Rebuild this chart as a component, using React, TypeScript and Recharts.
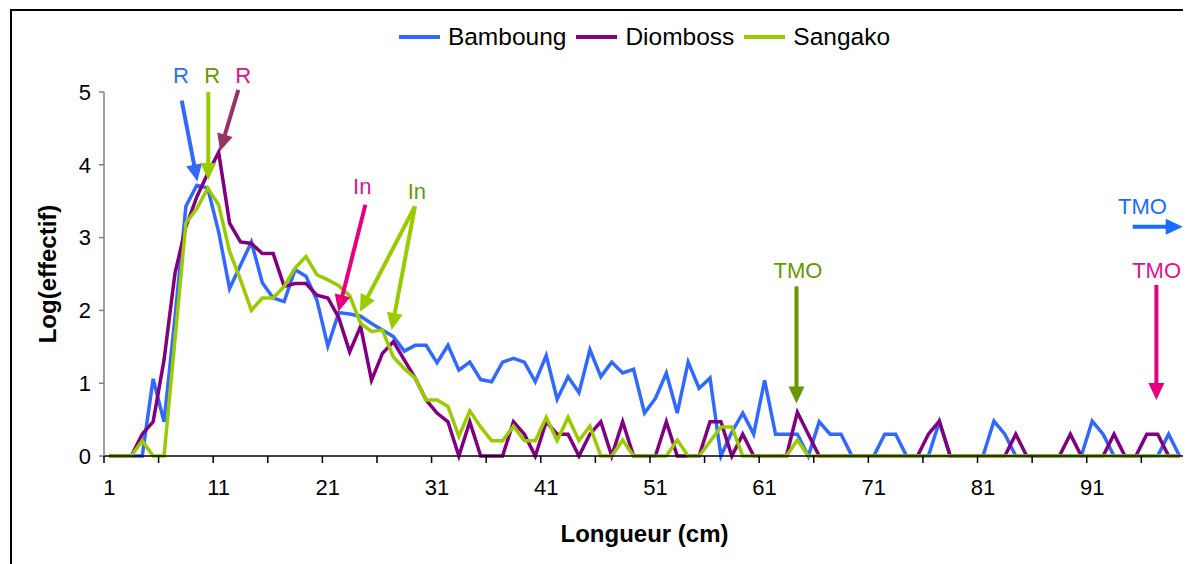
import React from 'react';
import { LineChart, Line, XAxis, YAxis, Legend, ReferenceLine, ReferenceDot } from 'recharts';

// length classes (cm)
const lengths = Array.from({ length: 99 }, (_, i) => i + 1);

// log(effectif) per length class
const bamboung = [
  0, 0, 0, 0, 1.06, 0.47, 1.9, 3.43, 3.72, 3.68,
  3.08, 2.3, 2.62, 2.94, 2.38, 2.17, 2.12, 2.56, 2.47, 2.14,
  1.51, 1.97, 1.95, 1.92, 1.82, 1.73, 1.64, 1.44, 1.52, 1.52,
  1.28, 1.52, 1.18, 1.29, 1.05, 1.02, 1.29, 1.34, 1.29, 1.02,
  1.38, 0.78, 1.09, 0.87, 1.46, 1.09, 1.29, 1.14, 1.19, 0.59,
  0.79, 1.14, 0.59, 1.29, 0.93, 1.07, 0, 0.33, 0.59, 0.3,
  1.04, 0.3, 0.3, 0.3, 0, 0.47, 0.3, 0.3, 0, 0,
  0, 0.3, 0.3, 0, 0, 0, 0.47, 0, 0, 0,
  0, 0.48, 0.3, 0, 0, 0, 0, 0, 0, 0,
  0.48, 0.3, 0, 0, 0, 0, 0, 0.3, 0,
];

const diomboss = [
  0, 0, 0, 0.3, 0.47, 1.32, 2.51, 3.15, 3.56, 3.88,
  4.17, 3.2, 2.94, 2.92, 2.78, 2.78, 2.33, 2.37, 2.37, 2.21,
  2.17, 1.9, 1.43, 1.78, 1.04, 1.41, 1.57, 1.32, 1.07, 0.77,
  0.59, 0.47, 0, 0.47, 0, 0, 0, 0.47, 0.3, 0,
  0.47, 0.3, 0.3, 0, 0.3, 0.47, 0, 0.47, 0, 0,
  0, 0.47, 0, 0, 0, 0.47, 0.47, 0, 0.3, 0,
  0, 0, 0, 0.6, 0.3, 0, 0, 0, 0, 0,
  0, 0, 0, 0, 0, 0.3, 0.48, 0, 0, 0,
  0, 0, 0, 0.3, 0, 0, 0, 0, 0.3, 0,
  0, 0, 0.3, 0, 0, 0.3, 0.3, 0, 0,
];

const sangako = [
  0, 0, 0, 0.21, 0, 0, 1.6, 3.2, 3.4, 3.68,
  3.45, 2.81, 2.42, 2.0, 2.17, 2.17, 2.33, 2.58, 2.74, 2.49,
  2.42, 2.34, 2.2, 1.82, 1.71, 1.73, 1.36, 1.2, 1.07, 0.77,
  0.77, 0.68, 0.27, 0.62, 0.4, 0.21, 0.21, 0.41, 0.21, 0.21,
  0.53, 0.21, 0.53, 0.21, 0.41, 0, 0, 0.22, 0, 0,
  0, 0, 0.22, 0, 0, 0.2, 0.4, 0.4, 0, 0,
  0, 0, 0, 0.22, 0, 0, 0, 0, 0, 0,
  0, 0, 0, 0, 0, 0, 0, 0, 0, 0,
  0, 0, 0, 0, 0, 0, 0, 0, 0, 0,
  0, 0, 0, 0, 0, 0, 0, 0, 0,
];

const xLabelTicks = [1, 11, 21, 31, 41, 51, 61, 71, 81, 91];
const xMarkTicks = [0.5, 5.5, 10.5, 15.5, 20.5, 25.5, 30.5, 35.5, 40.5, 45.5, 50.5, 55.5, 60.5, 65.5, 70.5, 75.5, 80.5, 85.5, 90.5, 95.5];
const yTicks = [0, 1, 2, 3, 4, 5];

const series = [
  { name: 'Bamboung', values: bamboung, color: '#3169FF' },
  { name: 'Diomboss', values: diomboss, color: '#800080' },
  { name: 'Sangako', values: sangako, color: '#99CC00' },
];

// annotation labels and arrows, in data units (length, log)
const notes = [
  { text: 'R', color: '#2E6CFF', at: [7.55, 5.22] },
  { text: 'R', color: '#669900', at: [10.4, 5.22] },
  { text: 'R', color: '#E0138C', at: [13.25, 5.22] },
  { text: 'In', color: '#E0138C', at: [24.15, 3.7] },
  { text: 'In', color: '#669900', at: [29.15, 3.64] },
  { text: 'TMO', color: '#669900', at: [64.05, 2.55] },
  { text: 'TMO', color: '#E0138C', at: [96.9, 2.55] },
  { text: 'TMO', color: '#1A6CFF', at: [95.6, 3.43] },
];

const arrows = [
  { from: [7.62, 4.88], to: [9.05, 3.77], color: '#3169FF' },
  { from: [10.05, 5.0], to: [10.05, 3.79], color: '#99CC00' },
  { from: [12.8, 5.03], to: [11.13, 4.19], color: '#993366' },
  { from: [24.44, 3.45], to: [21.96, 1.98], color: '#E6007E' },
  { from: [28.98, 3.43], to: [23.94, 1.98], color: '#99CC00' },
  { from: [28.98, 3.43], to: [26.84, 1.73], color: '#99CC00' },
  { from: [63.92, 2.33], to: [63.92, 0.72], color: '#669900' },
  { from: [96.88, 2.35], to: [96.88, 0.77], color: '#E6007E' },
  { from: [94.71, 3.15], to: [99.29, 3.15], color: '#1A6CFF' },
];

const data = lengths.map((len, i) => {
  const row: any = { len };
  series.forEach((s) => {
    row[s.name] = s.values[i];
  });
  return row;
});

const FONT = 'Arial, "Liberation Sans", sans-serif';

const arrowShape = (color: string) => (p: any) => {
  const { x1, y1, x2, y2 } = p;
  const dx = x2 - x1;
  const dy = y2 - y1;
  const len = Math.hypot(dx, dy) || 1;
  const ux = dx / len;
  const uy = dy / len;
  const head = 17;
  const half = 8;
  const bx = x2 - ux * head;
  const by = y2 - uy * head;
  return (
    <g>
      <line x1={x1} y1={y1} x2={bx + ux} y2={by + uy} stroke={color} strokeWidth={4} />
      <polygon
        points={`${x2},${y2} ${bx - uy * half},${by + ux * half} ${bx + uy * half},${by - ux * half}`}
        fill={color}
      />
    </g>
  );
};

const noteShape = (text: string, color: string) => (p: any) => (
  <text x={p.cx} y={p.cy} textAnchor="middle" dominantBaseline="central" fill={color} fontSize={22} fontFamily={FONT}>
    {text}
  </text>
);

const XTick = (props: any) => {
  const { x, y, payload } = props;
  const v = payload.value;
  if (xLabelTicks.includes(v)) {
    return (
      <text x={x} y={y + 31} textAnchor="middle" dominantBaseline="central" fontSize={22} fontFamily={FONT} fill="#000">
        {v}
      </text>
    );
  }
  return <line x1={x} x2={x} y1={y} y2={y + 7} stroke="#000" strokeWidth={1.5} />;
};

const renderLegend = () => (
  <div style={{ display: 'flex', justifyContent: 'center', alignItems: 'center', fontFamily: FONT, fontSize: 24.5 }}>
    {series.map((s, i) => (
      <div key={s.name} style={{ display: 'flex', alignItems: 'center', marginRight: i < series.length - 1 ? 10 : 0 }}>
        <svg width={41} height={6} style={{ marginRight: 8 }}>
          <line x1={0} x2={41} y1={3} y2={3} stroke={s.color} strokeWidth={4} />
        </svg>
        <span style={{ color: '#000', lineHeight: '28px' }}>{s.name}</span>
      </div>
    ))}
  </div>
);

export default function App() {
  return (
    <div style={{ position: 'relative', width: 1183, height: 556, background: '#fff' }}>
      <div
        style={{
          position: 'absolute',
          left: 2,
          top: 1,
          width: 1200,
          height: 600,
          borderTop: '2px solid #000',
          borderLeft: '2px solid #000',
          pointerEvents: 'none',
        }}
      />
      <div style={{ position: 'absolute', left: 0, top: 0, width: 1183, height: 555, overflow: 'hidden' }}>
        <LineChart width={1183} height={556} data={data} margin={{ top: 84, right: 6, bottom: 8, left: 6 }}>
          <XAxis
            dataKey="len"
            type="number"
            domain={[0.5, 99.5]}
            ticks={[...xMarkTicks, ...xLabelTicks].sort((a, b) => a - b)}
            interval={0}
            tick={<XTick />}
            tickLine={false}
            tickSize={0}
            tickMargin={0}
            height={100}
            axisLine={{ stroke: '#000', strokeWidth: 1.5 }}
            label={(p: any) => {
              const vb = p.viewBox;
              return (
                <text
                  x={vb.x + vb.width / 2}
                  y={vb.y + 77}
                  textAnchor="middle"
                  dominantBaseline="central"
                  fontSize={24}
                  fontWeight="bold"
                  fontFamily={FONT}
                  fill="#000"
                >
                  Longueur (cm)
                </text>
              );
            }}
          />
          <YAxis
            domain={[0, 5]}
            ticks={yTicks}
            interval={0}
            width={90}
            tickSize={5}
            tickMargin={8}
            axisLine={{ stroke: '#808080', strokeWidth: 1.5 }}
            tickLine={{ stroke: '#808080', strokeWidth: 1.5 }}
            tick={{ fontSize: 22, fill: '#000', fontFamily: FONT }}
            label={(p: any) => {
              const vb = p.viewBox;
              const cx = vb.x + 33;
              const cy = vb.y + vb.height / 2;
              return (
                <text
                  x={cx}
                  y={cy}
                  transform={`rotate(-90 ${cx} ${cy})`}
                  textAnchor="middle"
                  dominantBaseline="central"
                  fontSize={24}
                  fontWeight="bold"
                  fontFamily={FONT}
                  fill="#000"
                >
                  Log(effectif)
                </text>
              );
            }}
          />
          <Legend
            layout="horizontal"
            verticalAlign="middle"
            align="center"
            wrapperStyle={{ top: 15, left: 96, width: 1081 }}
            content={renderLegend}
          />
          {series.map((s) => (
            <Line
              key={s.name}
              type="linear"
              dataKey={s.name}
              stroke={s.color}
              strokeWidth={3.5}
              dot={false}
              activeDot={false}
              isAnimationActive={false}
            />
          ))}
          {arrows.map((a, i) => (
            <ReferenceLine
              key={`arrow-${i}`}
              segment={[
                { x: a.from[0], y: a.from[1] },
                { x: a.to[0], y: a.to[1] },
              ]}
              ifOverflow="visible"
              stroke={a.color}
              shape={arrowShape(a.color)}
            />
          ))}
          {notes.map((n, i) => (
            <ReferenceDot
              key={`note-${i}`}
              x={n.at[0]}
              y={n.at[1]}
              r={0}
              ifOverflow="visible"
              shape={noteShape(n.text, n.color)}
            />
          ))}
        </LineChart>
      </div>
    </div>
  );
}
